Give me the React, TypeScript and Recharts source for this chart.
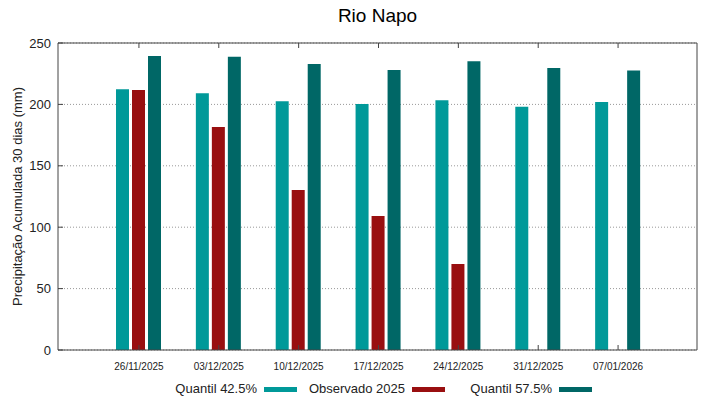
import { BarChart, Bar, XAxis, YAxis, CartesianGrid } from "recharts";

const dates = [
  "26/11/2025", "03/12/2025", "10/12/2025", "17/12/2025",
  "24/12/2025", "31/12/2025", "07/01/2026",
];
const q425 = [212.3, 209, 202.5, 200.3, 203.3, 198.1, 202];
const observado = [211.7, 181.6, 130.3, 109.1, 70, null, null];
const q575 = [239.4, 238.9, 232.9, 228, 235.1, 229.6, 227.7];
const yTicks = [0, 50, 100, 150, 200, 250];

const series = [
  { key: "q425", name: "Quantil 42.5%", color: "#009999" },
  { key: "obs", name: "Observado 2025", color: "#990f10" },
  { key: "q575", name: "Quantil 57.5%", color: "#006766" },
];

const data = dates.map((d, i) => ({
  date: d,
  q425: q425[i],
  obs: observado[i],
  q575: q575[i],
}));

const FONT = "'Liberation Sans', Arial, sans-serif";
const AXIS = "#444";
const legendX = [264, 412, 559];

export default function App() {
  return (
    <div
      style={{
        position: "absolute",
        left: 0,
        top: 0,
        width: 719,
        height: 399,
        background: "#fff",
        fontFamily: FONT,
        color: "#000",
      }}
    >
      <div
        style={{
          position: "absolute",
          top: 6,
          left: 277.5,
          width: 200,
          textAlign: "center",
          fontSize: 19,
          lineHeight: "19px",
        }}
      >
        Rio Napo
      </div>
      <BarChart
        width={719}
        height={399}
        data={data}
        margin={{ top: 42, right: 21, bottom: 0, left: 0 }}
        barSize={13}
        barGap={3}
      >
        <CartesianGrid
          vertical={false}
          stroke="#999"
          strokeDasharray="1 2"
        />
        <XAxis
          dataKey="date"
          height={49}
          padding={{ left: 41, right: 39 }}
          tickSize={-5}
          tickMargin={18}
          tick={{ fontSize: 10, fill: "#222" }}
          tickLine={{ stroke: AXIS }}
          axisLine={{ stroke: AXIS }}
          interval={0}
        />
        <XAxis
          xAxisId="top"
          dataKey="date"
          orientation="top"
          height={1}
          padding={{ left: 41, right: 39 }}
          tickSize={-5}
          tickFormatter={() => ""}
          tickLine={{ stroke: AXIS }}
          axisLine={{ stroke: AXIS }}
          interval={0}
        />
        <YAxis
          width={58}
          domain={[0, 250]}
          ticks={yTicks}
          tickSize={-5}
          tickMargin={12}
          tick={{ fontSize: 13, fill: "#222" }}
          tickLine={{ stroke: AXIS }}
          axisLine={{ stroke: AXIS }}
          label={{
            value: "Precipitação Acumulada 30 dias (mm)",
            angle: -90,
            position: "insideLeft",
            offset: 17,
            style: { textAnchor: "middle", fontSize: 13, fill: "#222" },
          }}
        />
        <YAxis
          yAxisId="right"
          orientation="right"
          width={1}
          domain={[0, 250]}
          ticks={yTicks}
          tickSize={-5}
          tickFormatter={() => ""}
          tickLine={{ stroke: AXIS }}
          axisLine={{ stroke: AXIS }}
        />
        {series.map((s) => (
          <Bar
            key={s.key}
            dataKey={s.key}
            name={s.name}
            fill={s.color}
            isAnimationActive={false}
          />
        ))}
      </BarChart>
      {series.map((s, i) => (
        <div key={s.key}>
          <div
            style={{
              position: "absolute",
              left: legendX[i] - 207,
              width: 200,
              top: 382,
              textAlign: "right",
              fontSize: 13,
              lineHeight: "13px",
              color: "#222",
            }}
          >
            {s.name}
          </div>
          <div
            style={{
              position: "absolute",
              left: legendX[i],
              top: 387,
              width: 33,
              height: 5,
              background: s.color,
            }}
          />
        </div>
      ))}
    </div>
  );
}
